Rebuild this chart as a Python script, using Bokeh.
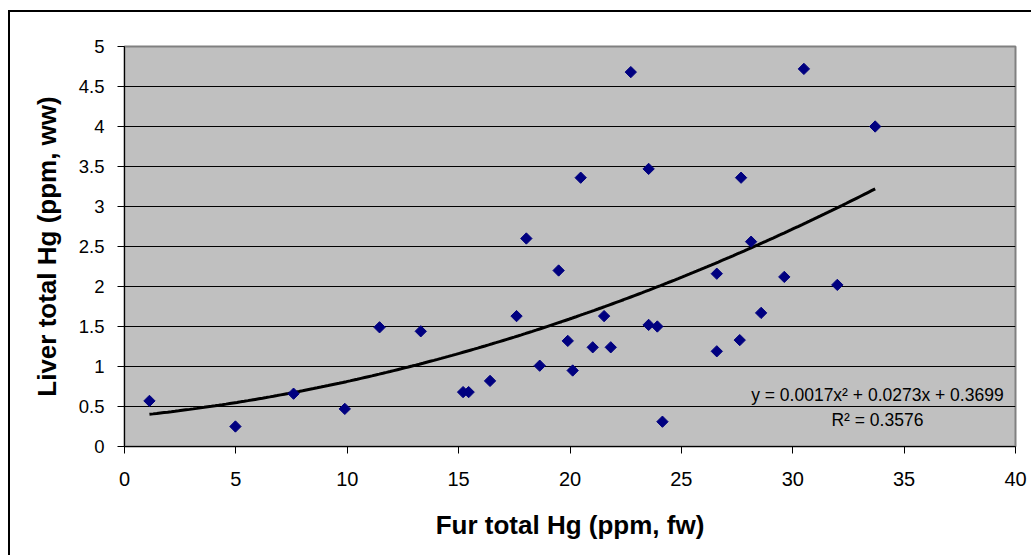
import numpy as np
from bokeh.plotting import figure
from bokeh.models import Range1d, FixedTicker, Label
from bokeh.embed import file_html
from bokeh.resources import INLINE

# ---- data ----
fur_hg = [1.12, 4.98, 7.59, 9.89, 11.45, 13.3, 15.2, 15.45, 16.41, 17.6, 18.04,
          18.64, 19.49, 19.9, 20.12, 20.48, 21.02, 21.53, 21.83, 22.73, 23.53,
          23.53, 23.92, 24.15, 26.59, 26.59, 27.62, 27.68, 28.13, 28.58, 29.62,
          30.5, 32.0, 33.7]
liver_hg = [0.57, 0.25, 0.66, 0.47, 1.49, 1.44, 0.68, 0.68, 0.82, 1.63, 2.6,
            1.01, 2.2, 1.32, 0.95, 3.36, 1.24, 1.63, 1.24, 4.68, 3.47,
            1.52, 1.5, 0.31, 2.16, 1.19, 1.33, 3.36, 2.56, 1.67, 2.12,
            4.72, 2.02, 4.0]

# polynomial trendline coefficients (as printed on the chart)
coef_a, coef_b, coef_c = 0.0017, 0.0273, 0.3699
r_squared = 0.3576

x_ticks = [0, 5, 10, 15, 20, 25, 30, 35, 40]
y_ticks = [0, 0.5, 1, 1.5, 2, 2.5, 3, 3.5, 4, 4.5, 5]
y_tick_labels = ["0", "0.5", "1", "1.5", "2", "2.5", "3", "3.5", "4", "4.5", "5"]

FONT = "Liberation Sans"

p = figure(width=1023, height=545, output_backend="svg", toolbar_location=None,
           x_range=Range1d(0, 40), y_range=Range1d(0, 5),
           min_border_left=114, min_border_right=18,
           min_border_top=34, min_border_bottom=111)
p.styles = {"border-left": "2px solid black", "border-top": "2px solid black",
            "margin-left": "8px", "margin-top": "10px"}

p.background_fill_color = "#C0C0C0"
p.border_fill_color = "white"
p.outline_line_color = "#808080"
p.outline_line_width = 2

# grid
p.xgrid.visible = False
p.ygrid.ticker = FixedTicker(ticks=y_ticks)
p.ygrid.grid_line_color = "black"
p.ygrid.grid_line_width = 1
p.ygrid.grid_line_alpha = 1.0

# axes
p.xaxis.ticker = FixedTicker(ticks=x_ticks)
p.yaxis.ticker = FixedTicker(ticks=y_ticks)
p.yaxis.major_label_overrides = {t: l for t, l in zip(y_ticks, y_tick_labels)}
for ax in (p.xaxis, p.yaxis):
    ax.axis_line_color = "black"
    ax.axis_line_width = 1
    ax.major_tick_line_color = "black"
    ax.major_tick_in = 0
    ax.major_tick_out = 7
    ax.minor_tick_line_color = None
    ax.major_label_text_font = FONT
    ax.major_label_text_color = "black"
    ax.axis_label_text_font = FONT
    ax.axis_label_text_font_style = "bold"
    ax.axis_label_text_font_size = "26px"
    ax.axis_label_text_color = "black"
p.xaxis.major_label_text_font_size = "20px"
p.yaxis.major_label_text_font_size = "18.5px"
p.xaxis.major_label_standoff = 18
p.yaxis.major_label_standoff = 13
p.xaxis.axis_label = "Fur total Hg (ppm, fw)"
p.yaxis.axis_label = "Liver total Hg (ppm, ww)"
p.xaxis.axis_label_standoff = 21
p.yaxis.axis_label_standoff = 14

# trendline (computed from the printed coefficients over the data range)
tx = np.linspace(min(fur_hg), max(fur_hg), 200)
ty = coef_a * tx ** 2 + coef_b * tx + coef_c
p.line(tx, ty, line_color="black", line_width=3)

# points
p.scatter(fur_hg, liver_hg, marker="square", angle=np.pi / 4, size=8,
          fill_color="#000080", line_color="#000080")

# trendline equation labels
eq_text = f"y = {coef_a}x\u00b2 + {coef_b}x + {coef_c}"
r2_text = f"R\u00b2 = {r_squared}"
p.add_layout(Label(x=33.8, y=0.64, text=eq_text, text_align="center",
                   text_baseline="middle", text_font=FONT,
                   text_font_size="17.5px", text_color="black"))
p.add_layout(Label(x=33.8, y=0.335, text=r2_text, text_align="center",
                   text_baseline="middle", text_font=FONT,
                   text_font_size="17.5px", text_color="black"))

open("out.html", "w").write(file_html(p, INLINE))
